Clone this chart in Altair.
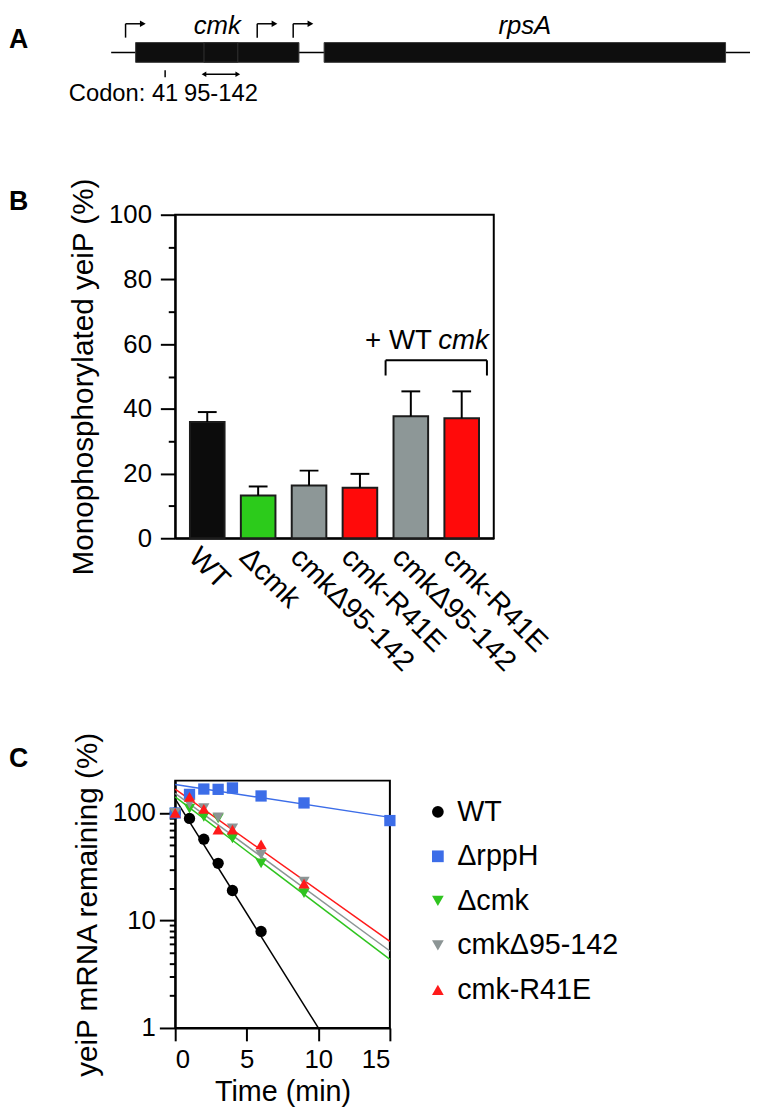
import altair as alt
import pandas as pd

FONT = "Liberation Sans"

# ---------------- Panel A: gene map (codon coordinates) ----------------
gene_names = ["cmk", "rpsA"]
gene_start = [0, 262]
gene_end = [227, 820]
promoter_pos = [-14, 169, 219]
track_start, track_end = -34, 854
codon_mut = 41
codon_del = [95, 142]

# ---------------- Panel B: monophosphorylated yeiP ----------------
b_keys = ["WT", "Δcmk", "cmkΔ95-142", "cmk-R41E",
          "cmkΔ95-142 (+WT cmk)", "cmk-R41E (+WT cmk)"]
b_mean = [35.9, 13.2, 16.3, 15.6, 37.7, 37.1]
b_err = [3.1, 2.8, 4.6, 4.3, 7.7, 8.3]
b_colors = ["#0c0c0c", "#2ccb1b", "#8d9797", "#ff0a0a", "#8d9797", "#ff0a0a"]

# ---------------- Panel C: yeiP decay ----------------
c_names = ["WT", "ΔrppH", "Δcmk", "cmkΔ95-142", "cmk-R41E"]
c_colors = ["#000000", "#3c6de8", "#2fc41f", "#8c9595", "#ff1a1a"]
c_shapes = ["circle", "square", "triangle-down", "triangle-down", "triangle-up"]
c_time = {
    "WT": [0, 1, 2, 3, 4, 6],
    "ΔrppH": [0, 1, 2, 3, 4, 6, 9, 15],
    "Δcmk": [0, 1, 2, 3, 4, 6, 9],
    "cmkΔ95-142": [0, 1, 2, 3, 4, 6, 9],
    "cmk-R41E": [0, 1, 2, 3, 4, 6, 9],
}
c_value = {
    "WT": [100, 89, 57, 34, 19, 7.9],
    "ΔrppH": [100, 149, 167, 166, 171, 144, 124, 85],
    "Δcmk": [100, 110, 92, 89, 58, 34, 18],
    "cmkΔ95-142": [100, 122, 111, 91, 72, 41, 23],
    "cmk-R41E": [100, 141, 109, 70, 70, 51, 22],
}
fit_time = {
    "WT": [0, 10], "ΔrppH": [0, 15], "Δcmk": [0, 15],
    "cmkΔ95-142": [0, 15], "cmk-R41E": [0, 15],
}
fit_value = {
    "WT": [135, 1], "ΔrppH": [184, 91], "Δcmk": [141, 4.35],
    "cmkΔ95-142": [152, 5.2], "cmk-R41E": [167, 6.4],
}

LABEL_X = -168  # panel letters sit at the left page edge

# ======================= Panel A =======================
A_W, A_H = 581, 112
PX = 10.0
a_xs = alt.Scale(domain=[55, 854], nice=False, zero=False)
a_ys = alt.Scale(domain=[-(A_H - 39) / PX, 39 / PX], nice=False, zero=False)


def AX(f):
    return alt.X(f, scale=a_xs, axis=None)


def AXD(v):
    return alt.XDatum(v, scale=a_xs, axis=None)


def AYD(v):
    return alt.YDatum(v, scale=a_ys, axis=None)


gdf = pd.DataFrame({"name": gene_names, "start": gene_start, "end": gene_end})

a_track = alt.Chart(pd.DataFrame({"s": [track_start], "e": [track_end]})).mark_rule(
    color="black", strokeWidth=1.5).encode(x=AX("s:Q"), x2="e:Q", y=AYD(0))

a_genes = alt.Chart(gdf).mark_rect(fill="#0e0e0e", stroke="#3a3a3a", strokeWidth=1).encode(
    x=AX("start:Q"), x2="end:Q", y=AYD(-1), y2=alt.Y2Datum(1))

a_del = alt.Chart(pd.DataFrame({"s": [codon_del[0]], "e": [codon_del[1]]})).mark_rect(
    fillOpacity=0, stroke="#333333", strokeWidth=1).encode(
    x=AX("s:Q"), x2="e:Q", y=AYD(-1), y2=alt.Y2Datum(1))

pbase = alt.Chart(pd.DataFrame({"p": promoter_pos})).transform_calculate(pe="datum.p + 24")
a_pv = pbase.mark_rule(color="black", strokeWidth=1.5).encode(
    x=AX("p:Q"), y=AYD(1.5), y2=alt.Y2Datum(2.9))
a_ph = pbase.mark_rule(color="black", strokeWidth=1.5).encode(
    x=AX("p:Q"), x2="pe:Q", y=AYD(2.9))
a_phead = pbase.mark_point(shape="triangle-right", filled=True, size=45,
                           color="black", opacity=1).encode(x=AX("pe:Q"), y=AYD(2.9))

a_names = alt.Chart(gdf).transform_calculate(mid="(datum.start + datum.end) / 2").mark_text(
    font=FONT, fontSize=26, fontStyle="italic", align="center", baseline="alphabetic",
    color="black", clip=True).encode(x=AX("mid:Q"), y=AYD(1.9), text="name:N")

a_tick = alt.Chart(pd.DataFrame({"c": [codon_mut]})).mark_rule(
    color="black", strokeWidth=1.5).encode(x=AX("c:Q"), y=AYD(-1.8), y2=alt.Y2Datum(-2.5))

a_darrow = alt.Chart(pd.DataFrame({"s": [codon_del[0]], "e": [codon_del[1]]})).mark_rule(
    color="black", strokeWidth=1.5).encode(x=AX("s:Q"), x2="e:Q", y=AYD(-2.2))
a_dheads = alt.Chart(pd.DataFrame({"c": codon_del,
                                   "shp": ["triangle-left", "triangle-right"]})).mark_point(
    filled=True, size=30, color="black", opacity=1).encode(
    x=AX("c:Q"), y=AYD(-2.2), shape=alt.Shape("shp:N", scale=None))

cod_df = pd.DataFrame({"c": [codon_mut, sum(codon_del) / 2],
                       "t": [str(codon_mut), f"{codon_del[0]}-{codon_del[1]}"]})
a_codtxt = alt.Chart(cod_df).mark_text(font=FONT, fontSize=24, align="center",
                                       baseline="alphabetic", color="black").encode(
    x=AX("c:Q"), y=AYD(-4.9), text="t:N")
a_codlab = alt.Chart(pd.DataFrame({"t": ["Codon:"]})).mark_text(
    font=FONT, fontSize=24, align="right", baseline="alphabetic", dx=-20,
    color="black").encode(x=AXD(codon_mut), y=AYD(-4.9), text="t:N")

a_letter = alt.Chart(pd.DataFrame({"t": ["A"]})).mark_text(
    font=FONT, fontSize=27, fontWeight="bold", align="left", baseline="alphabetic",
    color="black").encode(x=alt.value(LABEL_X), y=alt.value(34), text="t:N")

panelA = alt.layer(a_track, a_genes, a_del, a_pv, a_ph, a_phead, a_names, a_tick,
                   a_darrow, a_dheads, a_codtxt, a_codlab, a_letter).properties(
    width=A_W, height=A_H, view=alt.ViewBackground(strokeWidth=0))

# ======================= Panel B =======================
bdf = pd.DataFrame({"key": b_keys, "mean": b_mean, "err": b_err, "color": b_colors})
b_xs = alt.Scale(domain=b_keys, paddingInner=0.32, paddingOuter=0.29)
b_ys = alt.Scale(domain=[0, 100], nice=False, zero=True)

bx_axis = alt.Axis(title=None, ticks=False, labelAngle=45, labelAlign="left",
                   labelBaseline="top", labelPadding=4, labelOffset=-4, labelFontSize=29,
                   labelLimit=400, labelExpr="split(datum.label, ' (')[0]")
by_axis = alt.Axis(values=list(range(0, 101, 10)),
                   labelExpr="datum.value % 20 === 0 ? datum.label : ''",
                   tickSize={"condition": {"test": "datum.value % 20 === 0", "value": 15},
                             "value": 7},
                   labelPadding=9, labelFontSize=26,
                   title="Monophosphorylated yeiP (%)", titleFontSize=30, titlePadding=10)


def BX(f):
    return alt.X(f, scale=b_xs, axis=bx_axis)


def BY(f):
    return alt.Y(f, scale=b_ys, axis=by_axis)


def BYD(v):
    return alt.YDatum(v, scale=b_ys, axis=by_axis)


bbase = alt.Chart(bdf).transform_calculate(upper="datum.mean + datum.err")

b_bars = bbase.mark_bar(stroke="#1c1c1c", strokeWidth=2).encode(
    x=BX("key:N"), y=BY("mean:Q"), color=alt.Color("color:N", scale=None))
b_err_rule = bbase.mark_rule(color="black", strokeWidth=2).encode(
    x=BX("key:N"), y=BY("mean:Q"), y2="upper:Q")
b_err_cap = bbase.mark_tick(color="black", thickness=2, size=19, opacity=1).encode(
    x=BX("key:N"), y=BY("upper:Q"))

BR_TOP, BR_LEG, BR_TXT = 55.0, 50.3, 58.5
br_df = pd.DataFrame({"s": [b_keys[4]], "e": [b_keys[5]]})
b_br_h = alt.Chart(br_df).mark_rule(color="black", strokeWidth=2, xOffset=-25.5,
                                    x2Offset=25.5).encode(
    x=BX("s:N"), x2="e:N", y=BYD(BR_TOP))
b_br_l = alt.Chart(br_df).mark_rule(color="black", strokeWidth=2, xOffset=-25.5).encode(
    x=BX("s:N"), y=BYD(BR_LEG), y2=alt.Y2Datum(BR_TOP))
b_br_r = alt.Chart(br_df).mark_rule(color="black", strokeWidth=2, xOffset=25.5).encode(
    x=BX("e:N"), y=BYD(BR_LEG), y2=alt.Y2Datum(BR_TOP))
b_txt1 = alt.Chart(pd.DataFrame({"k": [b_keys[5]], "t": ["cmk"]})).mark_text(
    font=FONT, fontSize=28, fontStyle="italic", align="right", baseline="alphabetic",
    dx=27.5, color="black").encode(x=BX("k:N"), y=BYD(BR_TXT), text="t:N")
b_txt2 = alt.Chart(pd.DataFrame({"k": [b_keys[5]], "t": ["+ WT"]})).mark_text(
    font=FONT, fontSize=28, align="right", baseline="alphabetic",
    dx=-30, color="black").encode(x=BX("k:N"), y=BYD(BR_TXT), text="t:N")
b_letter = alt.Chart(pd.DataFrame({"t": ["B"]})).mark_text(
    font=FONT, fontSize=27, fontWeight="bold", align="left", baseline="alphabetic",
    color="black").encode(x=alt.value(LABEL_X), y=alt.value(-5), text="t:N")

panelB = alt.layer(b_bars, b_err_rule, b_err_cap, b_br_h, b_br_l, b_br_r,
                   b_txt1, b_txt2, b_letter).properties(
    width=322, height=327, view=alt.ViewBackground(stroke="black", strokeWidth=2))

# ======================= Panel C =======================
prow = []
for n in c_names:
    for t, v in zip(c_time[n], c_value[n]):
        prow.append({"series": n, "t": t, "v": v})
pdf = pd.DataFrame(prow)
lrow = []
for n, col in zip(c_names, c_colors):
    for t, v in zip(fit_time[n], fit_value[n]):
        lrow.append({"series": n, "t": t, "v": v, "lc": col})
ldf = pd.DataFrame(lrow)

c_xs = alt.Scale(domain=[0, 15], nice=False, zero=False)
c_ys = alt.Scale(type="log", domain=[1, 200], nice=False)
minor = [1, 2, 3, 4, 5, 6, 7, 8, 9, 10, 20, 30, 40, 50, 60, 70, 80, 90, 100]
major_test = "datum.value === 1 || datum.value === 10 || datum.value === 100"
cx_axis = alt.Axis(values=[0, 5, 10, 15], tickSize=13, labelPadding=6, labelFontSize=26,
                   title="Time (min)", titleFontSize=29, titlePadding=5)
cy_axis = alt.Axis(values=minor, format="d",
                   labelExpr="(" + major_test + ") ? datum.label : ''",
                   tickSize={"condition": {"test": major_test, "value": 16}, "value": 6},
                   labelPadding=4, labelFontSize=26,
                   title="yeiP mRNA remaining (%)", titleFontSize=30, titlePadding=10)

leg = alt.Legend(title=None, orient="none", legendX=251, legendY=792, padding=0,
                 labelFont=FONT, labelFontSize=29, labelColor="black", symbolSize=140,
                 symbolStrokeWidth=0, rowPadding=15, labelOffset=5, labelLimit=400,
                 symbolOpacity=1)

c_lines = alt.Chart(ldf).mark_line(strokeWidth=1.5).encode(
    x=alt.X("t:Q", scale=c_xs, axis=cx_axis),
    y=alt.Y("v:Q", scale=c_ys, axis=cy_axis),
    detail="series:N",
    color=alt.Color("lc:N", scale=None))
c_pts = alt.Chart(pdf).mark_point(filled=True, size=130, opacity=1).encode(
    x=alt.X("t:Q", scale=c_xs, axis=cx_axis),
    y=alt.Y("v:Q", scale=c_ys, axis=cy_axis),
    color=alt.Color("series:N", scale=alt.Scale(domain=c_names, range=c_colors), legend=leg),
    shape=alt.Shape("series:N", scale=alt.Scale(domain=c_names, range=c_shapes), legend=leg))
c_letter = alt.Chart(pd.DataFrame({"t": ["C"]})).mark_text(
    font=FONT, fontSize=27, fontWeight="bold", align="left", baseline="alphabetic",
    color="black").encode(x=alt.value(LABEL_X), y=alt.value(-14), text="t:N")

panelC = alt.layer(c_lines, c_pts, c_letter).properties(
    width=217, height=250, view=alt.ViewBackground(stroke="black", strokeWidth=2))

chart = alt.vconcat(panelA, panelB, panelC, spacing=52).properties(padding=0).configure_view(
    strokeWidth=0).configure_axis(
    domainColor="black", domainWidth=2, tickColor="black", tickWidth=2,
    labelColor="black", titleColor="black", labelFont=FONT, titleFont=FONT,
    titleFontWeight="normal", grid=False)

chart.save("out.html", embed_options={"renderer": "svg", "actions": False})
